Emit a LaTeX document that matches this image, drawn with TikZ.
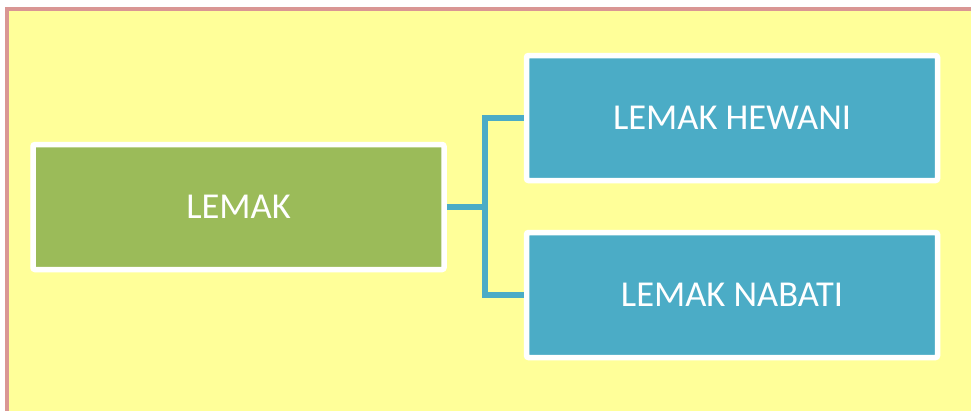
\documentclass[tikz,border=0pt]{standalone}
\usepackage{fontspec}
\setmainfont{Carlito}
\definecolor{bgyellow}{HTML}{FFFF99}
\definecolor{framepink}{HTML}{D99694}
\definecolor{boxgreen}{HTML}{9BBB59}
\definecolor{boxblue}{HTML}{4BACC6}
\tikzset{
  catbox/.style={draw=white, line width=5.5pt, rounded corners=2pt, inner sep=0pt,
    outer sep=2.75pt, minimum width=411pt, minimum height=125pt, text=white,
    font=\fontsize{36.5}{42}\selectfont},
  mainbox/.style={catbox, fill=boxgreen},
  subbox/.style={catbox, fill=boxblue},
  link/.style={draw=boxblue, line width=5.5pt}
}
\begin{document}
\begin{tikzpicture}[x=1pt,y=-1pt]
\useasboundingbox (0,0) rectangle (971,410);
\fill[white] (0,0) rectangle (971,410);
\begin{scope}
\clip (0,0) rectangle (971,410);
\draw[framepink, line width=4pt, fill=bgyellow] (7,9) rectangle (990,430);
\end{scope}
\node[mainbox] (lemak) at (238.5,207) {LEMAK};
\node[subbox] (hewani) at (732,118) {LEMAK HEWANI};
\node[subbox] (nabati) at (732,295) {LEMAK NABATI};
\coordinate (jn) at (485,207);
\draw[link] (lemak.east) -- (jn);
\draw[link] (hewani.west) -| (jn) |- (nabati.west);
\end{tikzpicture}
\end{document}
